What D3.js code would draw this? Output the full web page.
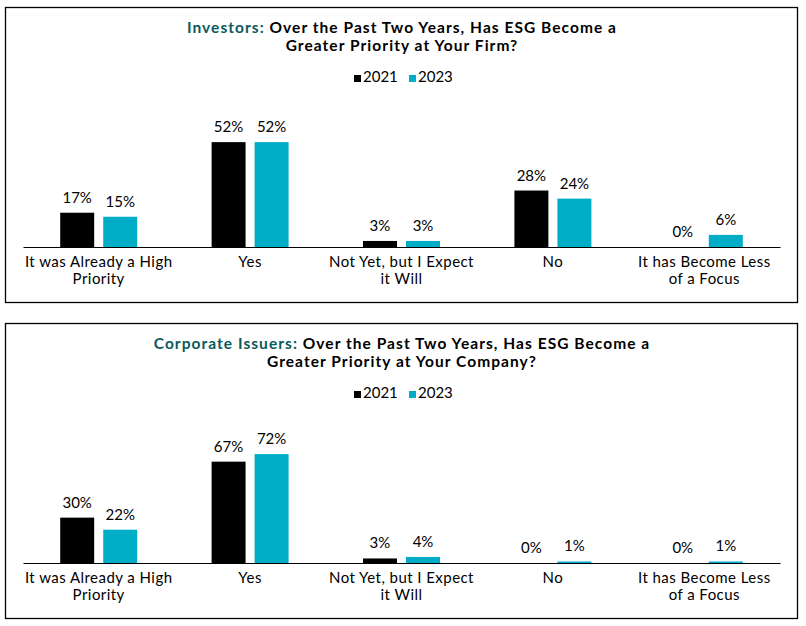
<!DOCTYPE html>
<html>
<head>
<meta charset="utf-8">
<script src="https://cdn.jsdelivr.net/npm/d3@7"></script>
<style>
  body { margin: 0; background: #fff; font-family: Lato, "Open Sans", sans-serif; }
  svg text { font-family: Lato, "Open Sans", sans-serif; }
</style>
</head>
<body>
<svg width="806" height="626"></svg>
<script>
// Data
const categories = [
  "It was Already a High Priority",
  "Yes",
  "Not Yet, but I Expect it Will",
  "No",
  "It has Become Less of a Focus"
];
// tick labels, split on two lines as in the original
const tickLabels = [
  ["It was Already a High", "Priority"],
  ["Yes"],
  ["Not Yet, but I Expect", "it Will"],
  ["No"],
  ["It has Become Less", "of a Focus"]
];
const seriesNames = ["2021", "2023"];
const investors2021 = [17, 52, 3, 28, 0];
const investors2023 = [15, 52, 3, 24, 6];
const issuers2021 = [30, 67, 3, 0, 0];
const issuers2023 = [22, 72, 4, 1, 1];

const colors = { "2021": "#000000", "2023": "#00adc6" };
const accent = "#0a5a5c";

const panels = [
  { lead: "Investors:", rest: " Over the Past Two Years, Has ESG Become a", line2: "Greater Priority at Your Firm?",
    values: [investors2021, investors2023] },
  { lead: "Corporate Issuers:", rest: " Over the Past Two Years, Has ESG Become a", line2: "Greater Priority at Your Company?",
    values: [issuers2021, issuers2023] }
];

const svg = d3.select("svg");
const panelTop = [7, 323];
const panelH = 295;
const plot = { left: 23, right: 780, baseline: 240, height: 121 };

panels.forEach((p, i) => {
  const g = svg.append("g").attr("transform", `translate(0,${panelTop[i]})`);

  // frame
  g.append("rect")
    .attr("x", 5.5).attr("y", 0.5)
    .attr("width", 792).attr("height", panelH)
    .attr("fill", "none").attr("stroke", "#000").attr("stroke-width", 1.3);

  // title (two lines)
  const t = g.append("text")
    .attr("x", 402).attr("y", 25.5)
    .attr("text-anchor", "middle")
    .attr("font-size", 15.5).attr("font-weight", "bold")
    .attr("letter-spacing", 1.05);
  t.append("tspan").attr("fill", accent).text(p.lead);
  t.append("tspan").attr("fill", "#000").text(p.rest);
  g.append("text")
    .attr("x", 402).attr("y", 43.5)
    .attr("text-anchor", "middle")
    .attr("font-size", 15.5).attr("font-weight", "bold")
    .attr("letter-spacing", 1.05)
    .text(p.line2);

  // legend
  const legend = g.append("g").attr("transform", "translate(347,0)");
  seriesNames.forEach((s, k) => {
    const lx = k * 55;
    legend.append("rect")
      .attr("x", lx + 7).attr("y", 68)
      .attr("width", 7).attr("height", 7)
      .attr("fill", colors[s]);
    legend.append("text")
      .attr("x", lx + 16).attr("y", 75)
      .attr("font-size", 15)
      .text(s);
  });

  // scales
  const data = categories.map((c, ci) => ({
    cat: c,
    vals: seriesNames.map((s, si) => ({ key: s, value: p.values[si][ci] }))
  }));

  const x0 = d3.scaleBand()
    .domain(categories)
    .range([plot.left, plot.right]);

  const x1 = d3.scaleBand()
    .domain(seriesNames)
    .range([0, x0.bandwidth()])
    .paddingInner(0.21)
    .paddingOuter(0.865);

  const maxV = d3.max(p.values.flat());
  const y = d3.scaleLinear()
    .domain([0, maxV])
    .nice(4)
    .range([plot.baseline, plot.baseline - plot.height]);

  // bars
  const groups = g.selectAll(".grp")
    .data(data)
    .join("g")
    .attr("class", "grp")
    .attr("transform", d => `translate(${x0(d.cat)},0)`);

  groups.selectAll("rect")
    .data(d => d.vals)
    .join("rect")
    .attr("x", d => x1(d.key))
    .attr("y", d => y(d.value))
    .attr("width", x1.bandwidth())
    .attr("height", d => y(0) - y(d.value))
    .attr("fill", d => colors[d.key]);

  // value labels
  groups.selectAll(".val")
    .data(d => d.vals)
    .join("text")
    .attr("class", "val")
    .attr("x", d => x1(d.key) + x1.bandwidth() / 2)
    .attr("y", d => y(d.value) - 10)
    .attr("text-anchor", "middle")
    .attr("font-size", 15)
    .text(d => d.value + "%");

  // x axis
  const axis = g.append("g")
    .attr("transform", `translate(0,${plot.baseline})`)
    .call(d3.axisBottom(x0).tickSize(0).tickFormat(""));
  axis.select(".domain").attr("stroke", "#000").attr("stroke-width", 1.2);

  axis.selectAll(".tick").each(function(d, ti) {
    const tx = d3.select(this).append("text")
      .attr("fill", "#000")
      .attr("font-size", 15)
      .attr("letter-spacing", 0.45)
      .attr("text-anchor", "middle");
    tickLabels[ti].forEach((line, li) => {
      tx.append("tspan").attr("x", 0).attr("y", 20 + li * 17).text(line);
    });
  });
});
</script>
</body>
</html>
